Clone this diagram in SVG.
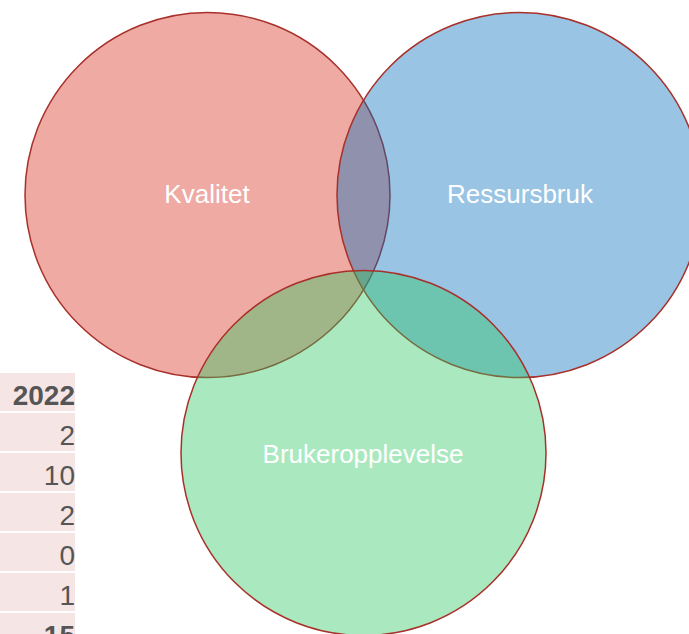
<svg xmlns="http://www.w3.org/2000/svg" width="689" height="634" viewBox="0 0 689 634">
<style>
.cell{fill:#f6e5e5}
.num{font-family:"Liberation Sans",Arial,sans-serif;font-size:28px;fill:#555555;text-anchor:end}
.bold{font-weight:bold}
.set{stroke:#a8302a;stroke-width:1.5;fill-opacity:0.4}
.lbl{font-family:"Liberation Sans",Arial,sans-serif;font-size:26px;fill:#ffffff;text-anchor:middle}
</style>
<rect width="689" height="634" fill="#ffffff"/>
<g id="table">
<rect class="cell" x="0" y="373" width="75" height="38"/>
<rect class="cell" x="0" y="413" width="75" height="38"/>
<rect class="cell" x="0" y="453" width="75" height="38"/>
<rect class="cell" x="0" y="493" width="75" height="38"/>
<rect class="cell" x="0" y="533" width="75" height="38"/>
<rect class="cell" x="0" y="573" width="75" height="38"/>
<rect class="cell" x="0" y="613" width="75" height="38"/>
<text class="num bold" x="75" y="405">2022</text>
<text class="num" x="75" y="445">2</text>
<text class="num" x="75" y="485">10</text>
<text class="num" x="75" y="525">2</text>
<text class="num" x="75" y="565">0</text>
<text class="num" x="75" y="605">1</text>
<text class="num bold" x="75" y="645">15</text>
</g>
<g id="connectors"></g>
<g id="kvalitet">
<circle class="set" cx="207.5" cy="195" r="182.5" fill="#d42a19"/>
</g>
<g id="ressursbruk">
<circle class="set" cx="519.5" cy="195" r="182.5" fill="#006bbb"/>
</g>
<g id="brukeropplevelse">
<circle class="set" cx="363.5" cy="453" r="182.5" fill="#2ac861"/>
</g>
<g id="labels">
<text class="lbl" x="207" y="203">Kvalitet</text>
<text class="lbl" x="520" y="203">Ressursbruk</text>
<text class="lbl" x="363" y="463">Brukeropplevelse</text>
</g>
</svg>
